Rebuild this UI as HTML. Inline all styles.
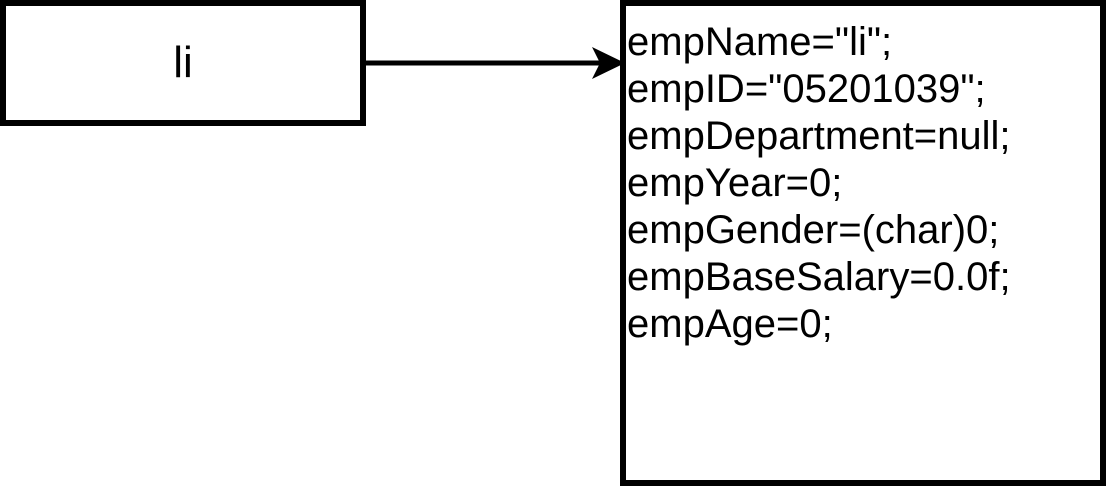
<!DOCTYPE html>
<html><head><meta charset="utf-8"><style>
html,body{margin:0;padding:0;background:#fff;}
body{width:1106px;height:486px;position:relative;overflow:hidden;font-family:"Liberation Sans",Arial,sans-serif;}
.b{position:absolute;box-sizing:border-box;border:6px solid #000;background:#fff;}
#l{left:0;top:0;width:366px;height:126px;font-size:44px;text-align:center;line-height:114px;}
#r{left:620px;top:0;width:486px;height:486px;}
#t{position:absolute;left:627px;top:19px;font-size:40px;line-height:47px;white-space:pre;}
</style></head><body>
<div class="b" id="l">li</div>
<svg width="1106" height="486" style="position:absolute;left:0;top:0">
<line x1="366" y1="63" x2="600" y2="63" stroke="#000" stroke-width="5"/>
<polygon points="625,63 592,47 600,63 592,79" fill="#000"/>
</svg>
<div class="b" id="r"></div>
<div id="t">empName="li";
empID="05201039";
empDepartment=null;
empYear=0;
empGender=(char)0;
empBaseSalary=0.0f;
empAge=0;</div>
</body></html>
